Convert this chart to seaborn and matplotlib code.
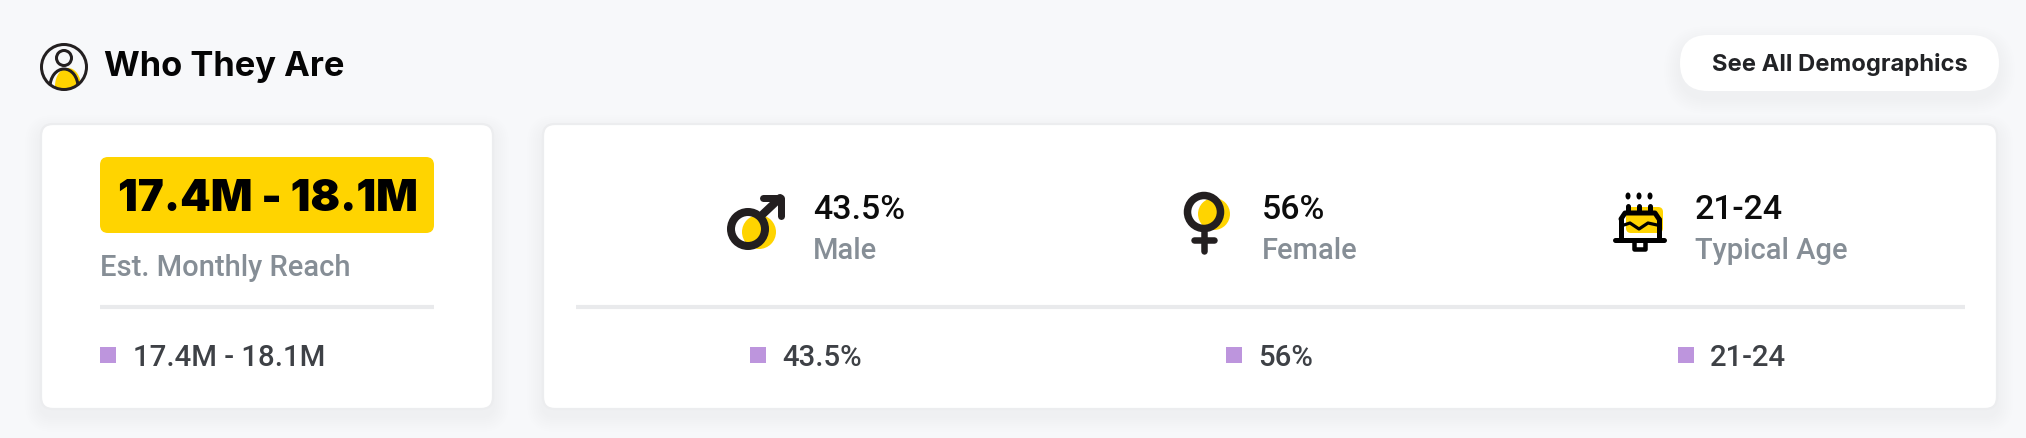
import seaborn as sns
import pandas as pd
import matplotlib.pyplot as plt
from matplotlib.patches import FancyBboxPatch, Circle, Ellipse

# values
title = "Who They Are"
button_label = "See All Demographics"
reach = "17.4M - 18.1M"
reach_label = "Est. Monthly Reach"
stat_values = ["43.5%", "56%", "21-24"]
stat_labels = ["Male", "Female", "Typical Age"]
legend_values = [reach] + stat_values

BG = "#f7f8fa"
YELLOW = "#ffd400"
INK = "#231f20"
GREY = "#868e96"
DARK = "#3e4146"
LINE = "#e9eaec"
PURPLE = "#bd95dd"

sns.set_theme(style="white")
plt.rcParams["font.family"] = ["Inter", "DejaVu Sans"]
BODY = ["Roboto", "DejaVu Sans"]

# axes in pixel units, y going down
fig, ax = plt.subplots(figsize=(20.26, 4.38), dpi=100)
fig.patch.set_facecolor(BG)
ax.set_position([0, 0, 1, 1])
ax.set_xlim(0, 2026)
ax.set_ylim(438, 0)
ax.axis("off")


def round_box(x0, y0, x1, y1, r, color, z=1, edge="none", lw=0, alpha=1):
    box = FancyBboxPatch((x0 + r, y0 + r), x1 - x0 - 2 * r, y1 - y0 - 2 * r,
                         boxstyle=f"round,pad={r},rounding_size={r}",
                         fc=color, ec=edge, lw=lw, alpha=alpha, zorder=z)
    ax.add_patch(box)


def card(x0, y0, x1, y1, r, border=True):
    # soft shadow first
    for grow in range(16, 0, -2):
        round_box(x0 - grow, y0 - grow + 7, x1 + grow, y1 + grow + 7, r + grow,
                  "#5a6270", z=1, alpha=0.005)
    round_box(x0, y0, x1, y1, r, "white", z=2,
              edge="#ecedef" if border else "none", lw=1.6 if border else 0)


def stroke(xs, ys, lw, color=INK, z=5):
    ax.plot(xs, ys, color=color, lw=lw * 0.72, solid_capstyle="round",
            solid_joinstyle="round", zorder=z)


def ring(cx, cy, r, w):
    ax.add_patch(Circle((cx, cy), r, fc="none", ec=INK, lw=w * 0.72, zorder=5))


# header icon, the shoulders are cut off by the outer ring
clip = Circle((64, 67), 22, transform=ax.transData)
dome = Ellipse((68, 86), 26, 36, fc=YELLOW, ec="none", zorder=3)
ax.add_patch(dome)
dome.set_clip_path(clip)
shoulders = Ellipse((64, 87), 28, 36, fc="none", ec=INK, lw=2.2, zorder=4)
ax.add_patch(shoulders)
shoulders.set_clip_path(clip)
ring(64, 58, 7.5, 3)
ring(64, 67, 22.5, 3)
ax.text(104, 76, title, fontsize=24.8, fontweight="bold", color="#050505", zorder=6)

# button
card(1680, 35, 1999, 91, 28, border=False)
ax.text(1840, 71, button_label, fontsize=17.1, fontweight="bold", color="#222326",
        ha="center", zorder=6)

# cards
card(41, 124, 493, 409, 12)
card(543, 124, 1997, 409, 12)

# reach block
round_box(100, 157, 434, 233, 8, YELLOW, z=3)
ax.text(267.5, 211, reach, fontsize=31.5, fontweight="black", color="black", ha="center", zorder=6)
ax.text(100, 276, reach_label, fontsize=21, fontweight="medium", family=BODY, color=GREY, zorder=6)
ax.plot([100, 434], [307, 307], color=LINE, lw=3, solid_capstyle="butt", zorder=3)
ax.plot([576, 1965], [307, 307], color=LINE, lw=3, solid_capstyle="butt", zorder=3)

# male icon
ax.add_patch(Circle((759, 232), 17, fc=YELLOW, ec="none", zorder=3))
ring(748, 229, 17, 8)
stroke([763, 780], [214, 198], 8)
stroke([763, 781, 781], [198, 198, 216], 7)

# female icon
ax.add_patch(Circle((1214, 214), 16, fc=YELLOW, ec="none", zorder=3))
ring(1204, 212, 16.5, 7.5)
stroke([1204, 1204], [232, 251], 6.5)
stroke([1194, 1214], [240, 240], 6.5)

# cake icon
round_box(1626, 207, 1663, 233, 5, YELLOW, z=3)
stroke([1621, 1621], [238, 219], 5, "black")
stroke([1659, 1659], [238, 219], 5, "black")
stroke([1621, 1625, 1655, 1659], [219, 213, 213, 219], 5, "black")
stroke([1615, 1664], [239.5, 239.5], 5, "black")
stroke([1634, 1634, 1645, 1645], [242, 249, 249, 242], 4.5, "black")
stroke([1624, 1630, 1639, 1648, 1657], [225, 223, 229, 223, 225], 3.2, "black")
for cx in [1628, 1639, 1650]:
    stroke([cx, cx], [206, 212], 5, "black")
    ax.add_patch(Ellipse((cx, 196), 5, 7, fc="black", ec="none", zorder=5))

# stat texts
stat_x = [813, 1262, 1695]
for x, val, lab in zip(stat_x, stat_values, stat_labels):
    ax.text(x, 219, val, fontsize=24.4, fontweight="medium", family=BODY, color="#0c0c0c", zorder=6)
    ax.text(x, 259, lab, fontsize=21, fontweight="medium", family=BODY, color=GREY, zorder=6)

# purple legend squares, drawn by seaborn
square_x = [108, 758, 1234, 1686]
legend = pd.DataFrame({"x": square_x, "y": [355] * 4, "value": legend_values})
sns.scatterplot(data=legend, x="x", y="y", marker="s", s=133, color=PURPLE,
                linewidth=0, ax=ax, legend=False, zorder=6)
ax.set_xlim(0, 2026)
ax.set_ylim(438, 0)
ax.axis("off")
for x, val in zip([133, 782, 1258, 1710], legend_values):
    ax.text(x, 366, val, fontsize=21.2, fontweight="medium", family=BODY, color=DARK, zorder=6)

fig.savefig("out.png", dpi=100, facecolor=BG)
